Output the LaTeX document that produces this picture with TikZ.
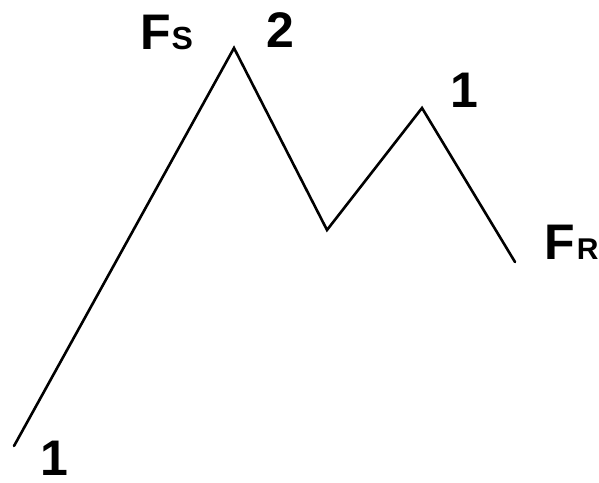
\documentclass[tikz,border=0pt]{standalone}
\usepackage{fontspec}
\setmainfont{Liberation Sans}
\newcommand\subS{\kern1pt\fontsize{32}{32}\selectfont}
\newcommand\subR{\kern2pt\fontsize{30}{30}\selectfont}
\begin{document}
\begin{tikzpicture}[x=1pt,y=-1pt,
  lbl/.style={inner sep=0pt,anchor=base west,font=\fontsize{50}{50}\selectfont\bfseries},
  zig/.style={line width=2.6pt,line join=miter,line cap=round}]
\useasboundingbox (0,0) rectangle (599,482);
\coordinate (p0) at (14,446);
\coordinate (p1) at (234,48);
\coordinate (p2) at (327,230);
\coordinate (p3) at (422,108);
\coordinate (p4) at (515,262);
\draw[zig] (p0) -- (p1) -- (p2) -- (p3) -- (p4);
\node[lbl] (one1) at (40,475) {1};
\node[lbl] (fs) at (140,49) {F{\subS S}};
\node[lbl] (two) at (266,47) {2};
\node[lbl] (one2) at (450,107) {1};
\node[lbl] (fr) at (544,259) {F{\subR R}};
\end{tikzpicture}
\end{document}
